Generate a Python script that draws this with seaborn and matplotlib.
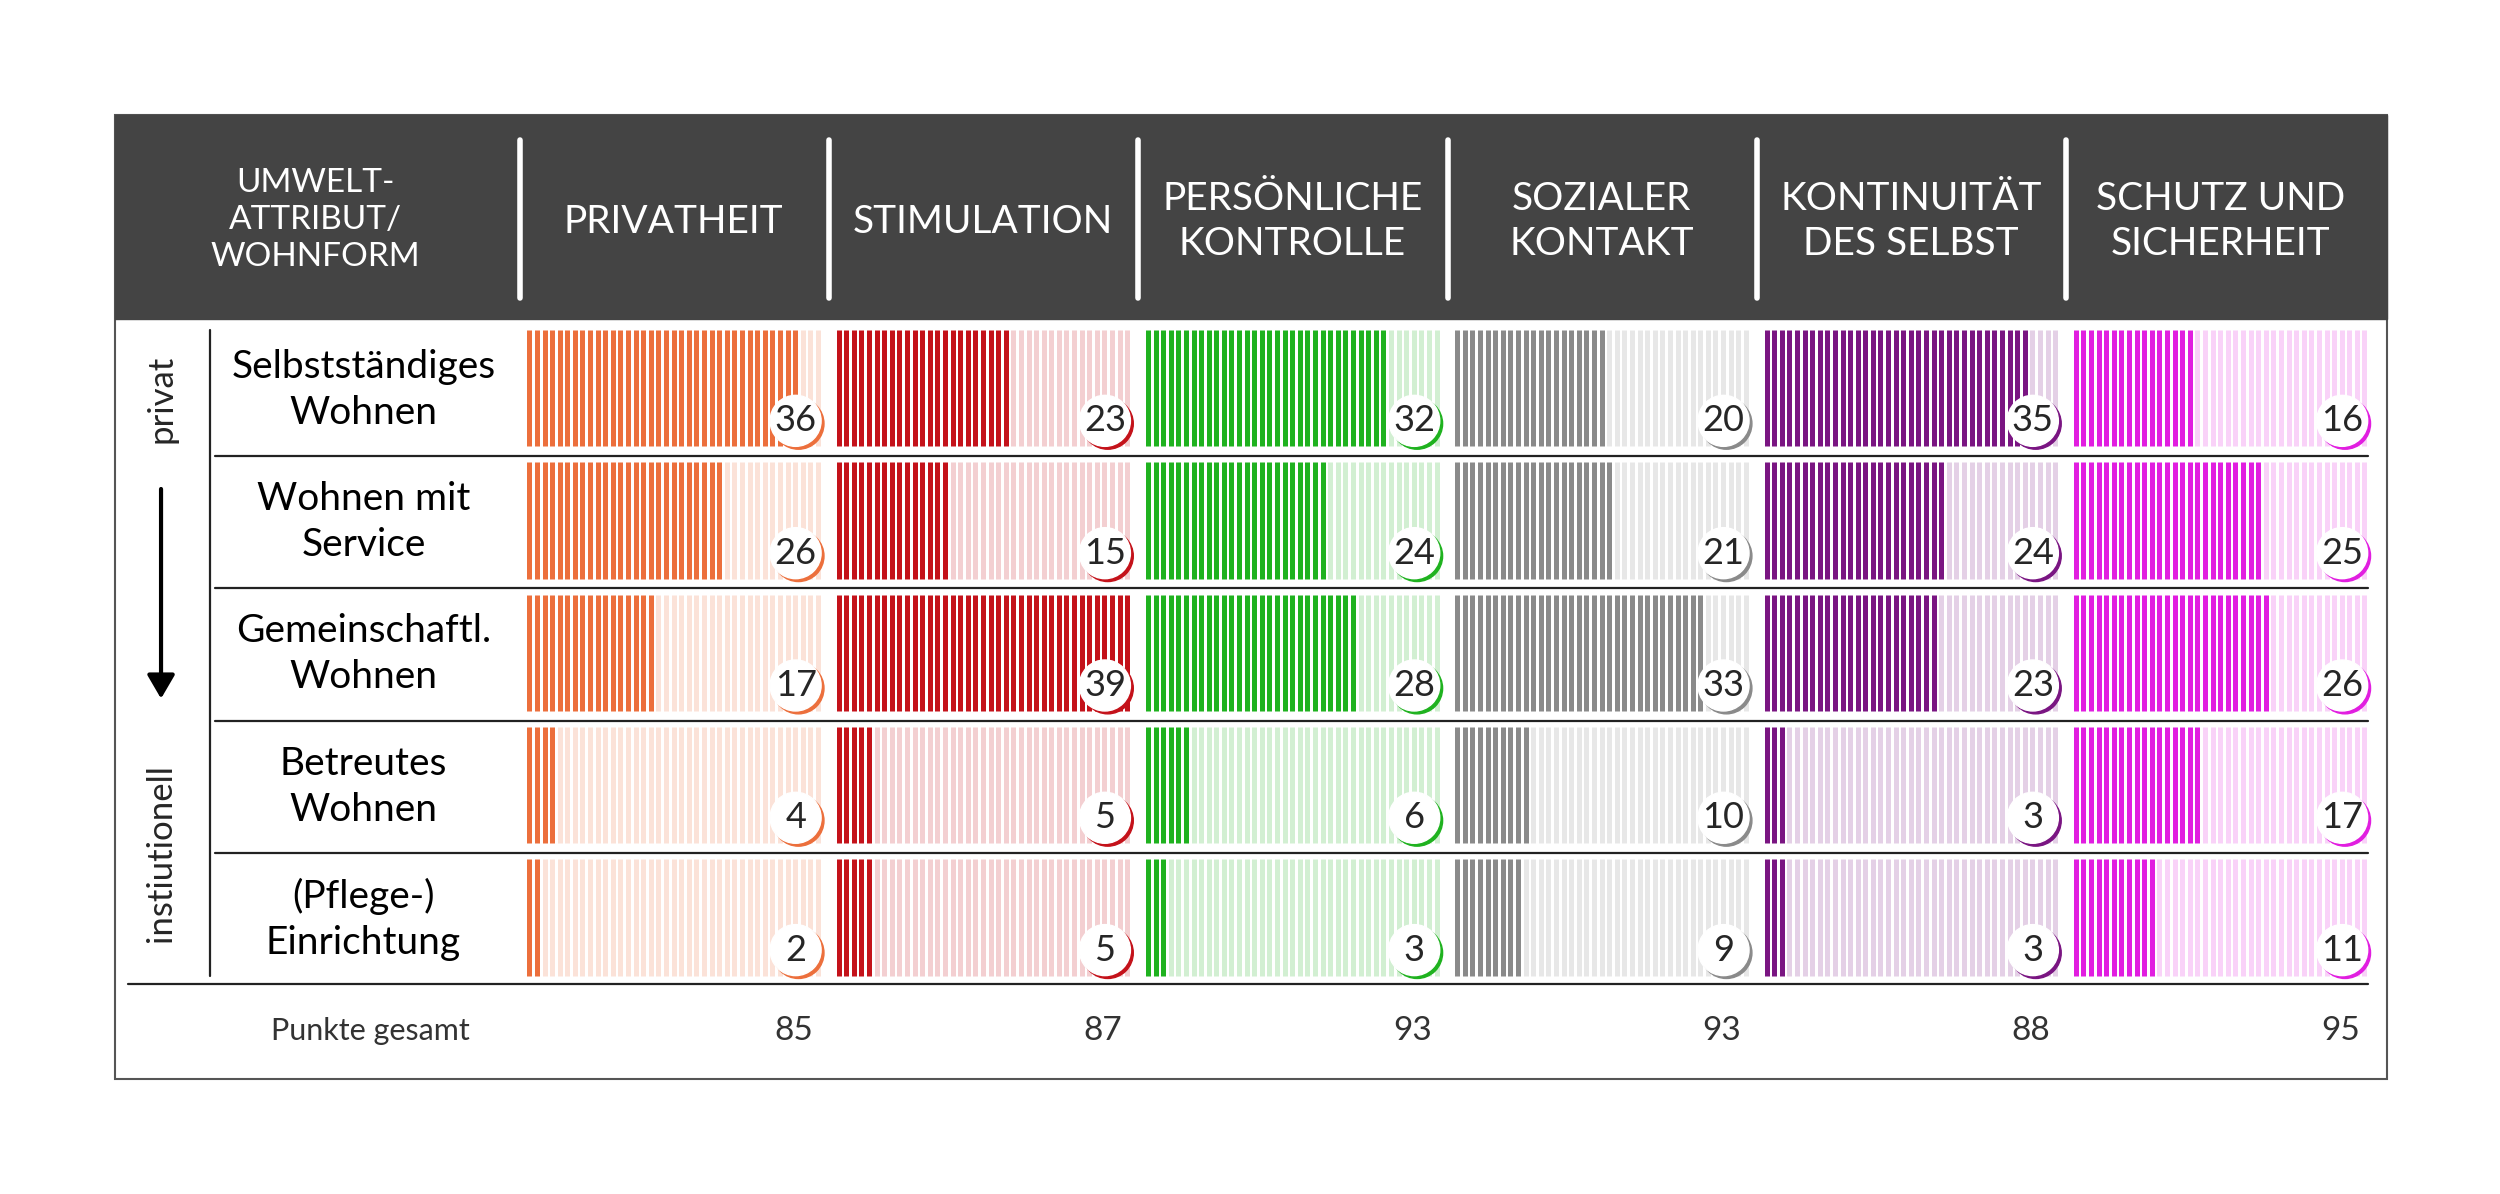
import numpy as np
import pandas as pd
import matplotlib.pyplot as plt
import seaborn as sns
from matplotlib.patches import Rectangle, Circle

sns.set_theme(style="white")
plt.rcParams['font.family'] = ['Lato', 'DejaVu Sans']

cols = ["PRIVATHEIT", "STIMULATION", "PERSÖNLICHE\nKONTROLLE", "SOZIALER\nKONTAKT",
        "KONTINUITÄT\nDES SELBST", "SCHUTZ UND\nSICHERHEIT"]
rows = ["Selbstständiges\nWohnen", "Wohnen mit\nService", "Gemeinschaftl.\nWohnen",
        "Betreutes\nWohnen", "(Pflege-)\nEinrichtung"]
vals = pd.DataFrame([[36, 23, 32, 20, 35, 16],
                     [26, 15, 24, 21, 24, 25],
                     [17, 39, 28, 33, 23, 26],
                     [4, 5, 6, 10, 3, 17],
                     [2, 5, 3, 9, 3, 11]], index=rows, columns=cols)
totals = [85, 87, 93, 93, 88, 95]
colors = ["#EC6F3C", "#C4121A", "#1FB21F", "#8A8A8A", "#7A1582", "#E11EE0"]
n_stripes = 39

fig = plt.figure(figsize=(25, 11.94), dpi=100)
ax = fig.add_axes([0, 0, 1, 1])
ax.set_xlim(0, 1568)
ax.set_ylim(749, 0)
ax.axis("off")

# frame and header
ax.add_patch(Rectangle((72, 72), 1425, 605, fill=False, ec="#555555", lw=1.5))
ax.add_patch(Rectangle((72, 72), 1425, 128, color="#444444"))
ax.text(198, 138, "UMWELT-\nATTRIBUT/\nWOHNFORM", color="white", ha="center", va="center",
        fontsize=24, linespacing=1.3)
col_x = [330, 524, 718, 912, 1106, 1300]
cw = 185
for i, c in enumerate(cols):
    ax.plot([col_x[i] - 4] * 2, [88, 187], color="white", lw=4)
    ax.text(col_x[i] + cw / 2, 139, c, color="white", ha="center", va="center",
            fontsize=28, linespacing=1.3)

row_y = [207, 290, 373, 456, 539]
rh = 73
for r, name in enumerate(rows):
    ax.text(228, row_y[r] + rh / 2 + 1, name, ha="center", va="center", fontsize=28,
            color="black", linespacing=1.35)
    if r > 0:
        ax.plot([135, 1485], [row_y[r] - 4] * 2, color="#222222", lw=1.6)
    for c in range(6):
        v = vals.iloc[r, c]
        xs = col_x[c] + 2 + np.arange(n_stripes) * (cw - 4) / (n_stripes - 1)
        ax.vlines(xs[:v], row_y[r], row_y[r] + rh, color=colors[c], lw=3.6)
        ax.vlines(xs[v:], row_y[r], row_y[r] + rh, color=colors[c], lw=3.6, alpha=0.2)
        cx, cy = col_x[c] + cw - 16, row_y[r] + rh - 16
        ax.add_patch(Circle((cx + 1.8, cy + 1.8), 16, color=colors[c], zorder=3))
        ax.add_patch(Circle((cx, cy), 16, color="white", zorder=4))
        ax.text(cx, cy, str(v), ha="center", va="center", fontsize=26, zorder=5)

ax.plot([80, 1485], [617, 617], color="#222222", lw=1.6)
ax.plot([132, 132], [207, 612], color="#222222", lw=1.6)
ax.text(232, 647, "Punkte gesamt", ha="center", va="center", fontsize=22, color="#333333")
for i, t in enumerate(totals):
    ax.text(col_x[i] + cw - 5, 647, str(t), ha="right", va="center", fontsize=24, color="#333333")

# left axis labels
ax.text(101, 250, "privat", rotation=90, ha="center", va="center", fontsize=25)
ax.annotate("", xy=(101, 440), xytext=(101, 305),
            arrowprops=dict(arrowstyle="-|>,head_width=0.7,head_length=1.2", color="black", lw=3))
ax.text(101, 535, "instiutionell", rotation=90, ha="center", va="center", fontsize=25)

fig.savefig("out.png", dpi=100, facecolor="white")
